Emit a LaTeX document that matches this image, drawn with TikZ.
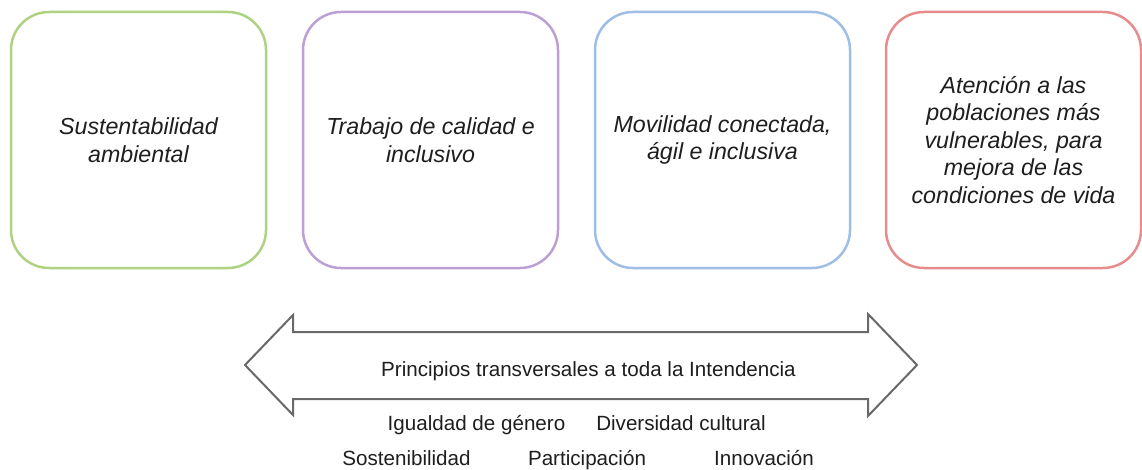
\documentclass[tikz,border=0pt]{standalone}
\usepackage{fontspec}
\setmainfont{Liberation Sans}
\definecolor{cgreen}{RGB}{172,210,130}
\definecolor{cpurple}{RGB}{186,160,212}
\definecolor{cblue}{RGB}{158,190,230}
\definecolor{cred}{RGB}{230,140,140}
\definecolor{ctext}{RGB}{30,30,30}
\definecolor{carrow}{RGB}{105,105,105}
\tikzset{
  goalbox/.style={draw=#1, line width=2.5pt, rounded corners=38pt, minimum width=255pt, minimum height=256pt, align=center, text=ctext, font=\fontsize{23.2}{27.5}\selectfont\itshape, inner sep=0pt},
  princ/.style={text=ctext, font=\fontsize{20.6}{24}\selectfont, anchor=base, inner sep=0pt},
  bigarrow/.style={draw=carrow, line width=2pt, line join=miter, fill=white}
}
\begin{document}
\begin{tikzpicture}[x=1pt,y=-1pt]
\useasboundingbox (0,0) rectangle (1142,470);
\node[goalbox=cgreen] (b1) at (138.5,140) {Sustentabilidad\\ambiental};
\node[goalbox=cpurple] (b2) at (430.5,140) {Trabajo de calidad e\\inclusivo};
\node[goalbox=cblue] (b3) at (722.5,140) {Movilidad conectada,\\ágil e inclusiva};
\node[goalbox=cred] (b4) at (1013.5,140) {Atención a las\\poblaciones más\\vulnerables, para\\mejora de las\\condiciones de vida};
\draw[bigarrow] (245,365) -- (293,315) -- (293,332) -- (868,332) -- (868,314) -- (917,365) -- (868,416) -- (868,399) -- (293,399) -- (293,415) -- cycle;
\node[princ] (t0) at (588.5,376) {Principios transversales a toda la Intendencia};
\node[princ] (p1) at (476.5,430) {Igualdad de género};
\node[princ] (p2) at (681,430) {Diversidad cultural};
\node[princ] (p3) at (406.5,465) {Sostenibilidad};
\node[princ] (p4) at (587,465) {Participación};
\node[princ] (p5) at (764,465) {Innovación};
\end{tikzpicture}
\end{document}
